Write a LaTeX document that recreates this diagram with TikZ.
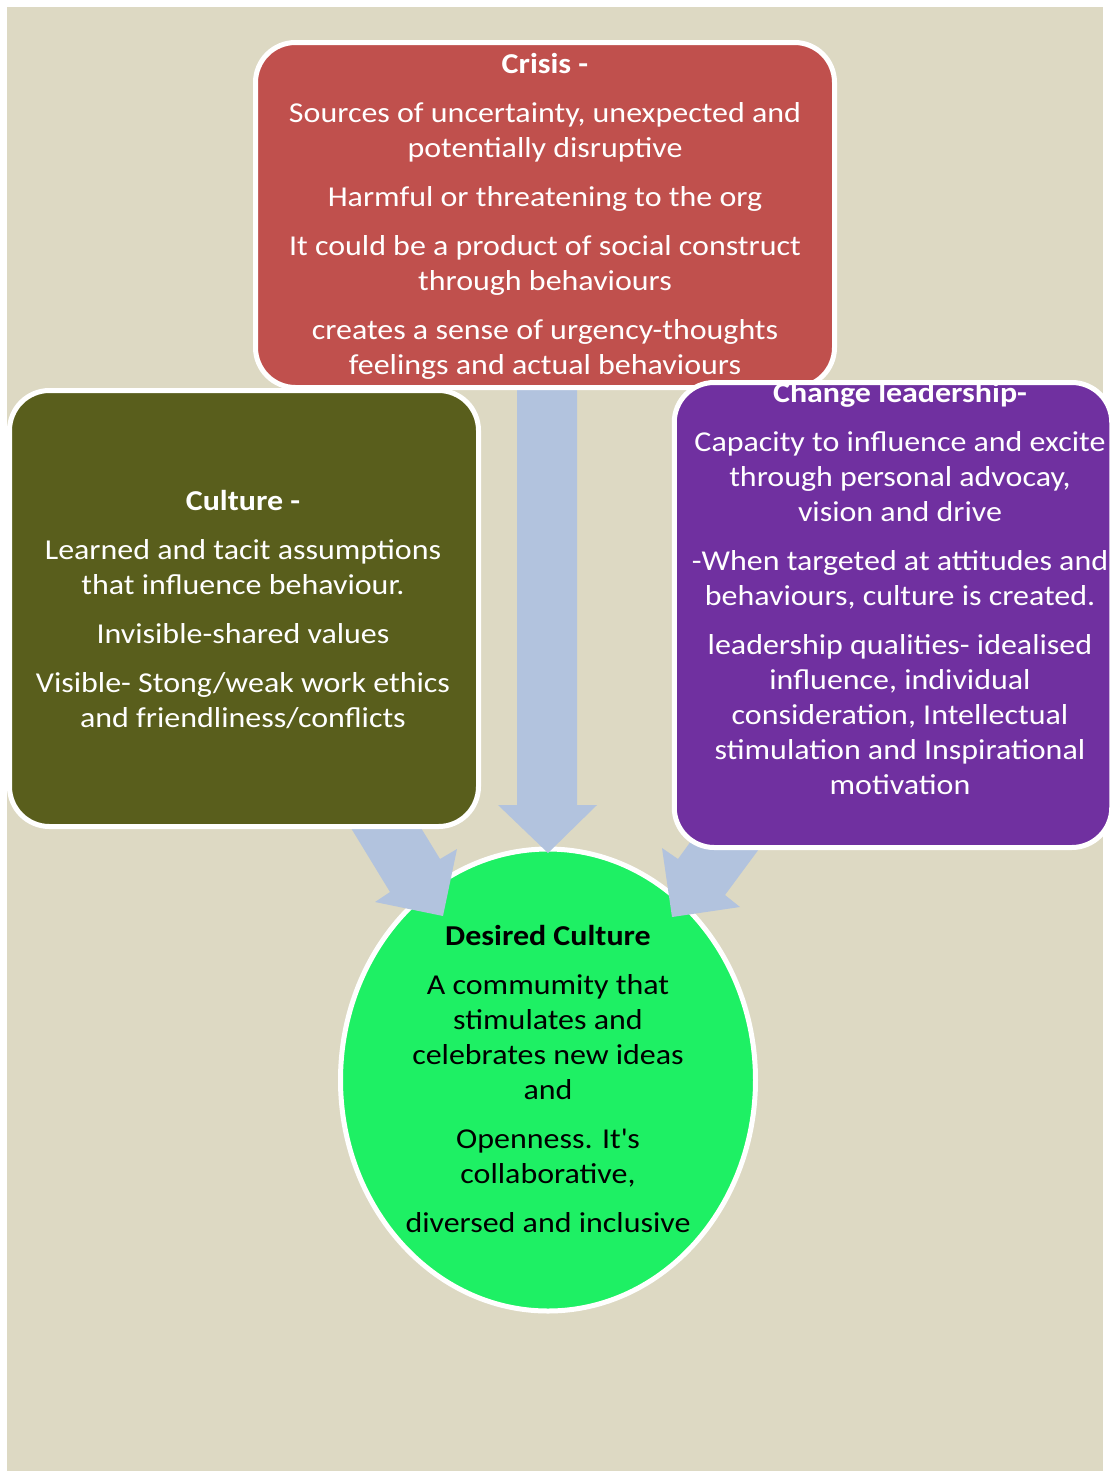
\documentclass[tikz,border=0pt]{standalone}
\usepackage{fontspec}
\setmainfont{Carlito}[FakeStretch=1.11]
\usetikzlibrary{shapes.geometric}

\definecolor{bgtan}{HTML}{DDD9C3}
\definecolor{crisisred}{HTML}{C0504D}
\definecolor{cultureolive}{HTML}{595E1C}
\definecolor{leadpurple}{HTML}{7030A0}
\definecolor{desiredgreen}{HTML}{1EF064}
\definecolor{arrowblue}{HTML}{B2C3DE}

\begin{document}
\begin{tikzpicture}[x=0.5pt,y=-0.5pt,
  box/.style={draw=white,line width=2.5pt,rounded corners=20pt,inner sep=0pt},
  txt/.style={text=white,align=center,inner sep=0pt,
    font=\fontsize{14.4}{17.5}\selectfont},
  blockarrow/.style={fill=arrowblue}]
  % --- canvas: white margin round a tan page
  \clip (0,0) rectangle (1113,1473);
  \fill[white] (0,0) rectangle (1113,1473);
  \fill[bgtan] (7,7) rectangle (1103,1471);

  %---------------------------------------
  % target: desired culture
  \node[ellipse,draw=white,line width=2.5pt,fill=desiredgreen,
    minimum width=207.5pt,minimum height=231pt,inner sep=0pt] (desired) at (548,1080) {};
  \node[txt,text=black] (desiredtext) at (548,1079) {%
    \textbf{Desired Culture}\\[7pt]
    A commumity that\\ stimulates and\\ celebrates new ideas\\ and\\[7pt]
    Openness. It\textquotesingle s\\ collaborative,\\[7pt]
    diversed and inclusive};

  %---------------------------------------
  % block arrows into the ellipse
  \fill[blockarrow] (517,380) -- (577,380) -- (577,805) -- (597,805)
    -- (548,853) -- (498,805) -- (517,805) -- cycle;
  \fill[blockarrow] (340,810) -- (410,810) -- (440,859) -- (457,849)
    -- (443,916) -- (375,902) -- (390,892) -- cycle;
  \fill[blockarrow] (699,830) -- (773,830) -- (725,895) -- (740,907)
    -- (672,917) -- (662,848) -- (678,859) -- cycle;

  %---------------------------------------
  % crisis (top)
  \node[box,fill=crisisred,minimum width=289.5pt,minimum height=172.5pt] (crisis) at (545,215) {};
  \node[txt] (crisistext) at (545,216) {%
    \textbf{Crisis -}\\[7pt]
    Sources of uncertainty, unexpected and\\ potentially disruptive\\[7pt]
    Harmful or threatening to the org\\[7pt]
    It could be a product of social construct\\ through behaviours\\[7pt]
    creates a sense of urgency-thoughts\\ feelings and actual behaviours};

  % culture (left)
  \node[box,fill=cultureolive,minimum width=234.5pt,minimum height=218pt] (culture) at (244,608.5) {};
  \node[txt] (culturetext) at (243,609) {%
    \textbf{Culture -}\\[7pt]
    Learned and tacit assumptions\\ that influence behaviour.\\[7pt]
    Invisible-shared values\\[7pt]
    Visible- Stong/weak work ethics\\ and friendliness/conflicts};

  % change leadership (right), text runs over the top edge
  \node[box,fill=leadpurple,minimum width=218.75pt,minimum height=232.5pt] (leadership) at (893,615) {};
  \begin{scope}
    \clip[rounded corners=20pt] (674.5,382.5) rectangle (1112,847.5);
    \node[txt] (leadershiptext) at (900,588) {%
      \textbf{Change leadership-}\\[7pt]
      Capacity to influence and excite\\ through personal advocay,\\ vision and drive\\[7pt]
      -When targeted at attitudes and\\ behaviours, culture is created.\\[7pt]
      leadership qualities- idealised\\ influence, individual\\ consideration, Intellectual\\
      stimulation and Inspirational\\ motivation};
  \end{scope}
\end{tikzpicture}
\end{document}
